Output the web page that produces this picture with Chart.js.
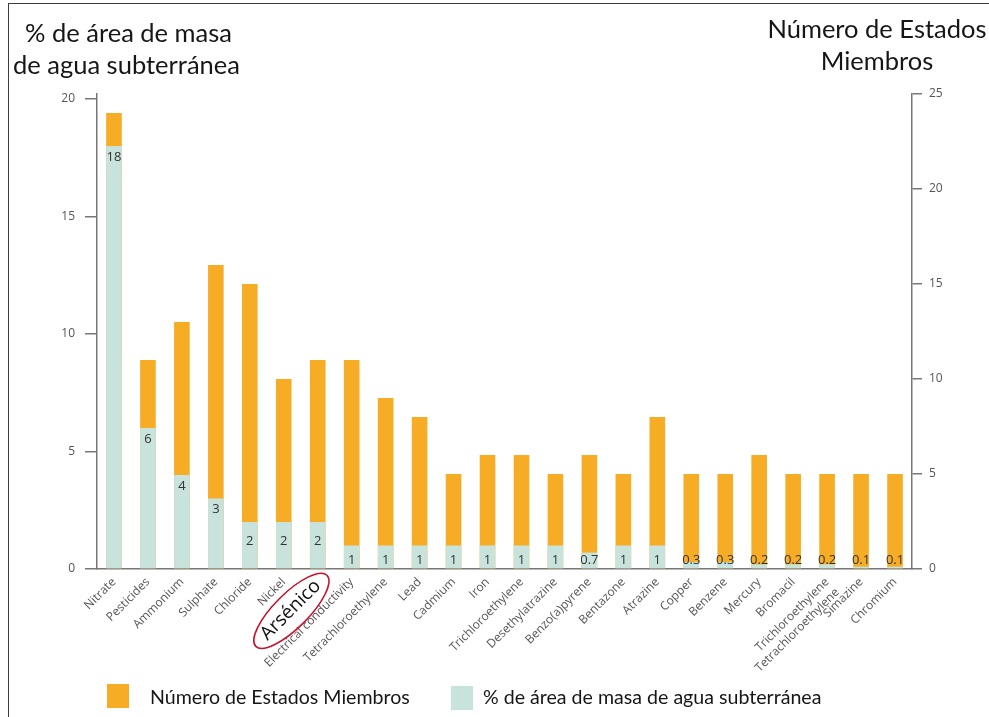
<!DOCTYPE html>
<html>
<head>
<meta charset="utf-8">
<script src="https://cdn.jsdelivr.net/npm/chart.js@4.4.1/dist/chart.umd.min.js"></script>
<style>
  html, body { margin: 0; padding: 0; background: #fff; }
  #wrap { position: relative; width: 989px; height: 717px; overflow: hidden; background: #fff; }
  #frame { position: absolute; left: 8px; top: 3px; right: -4px; bottom: -4px;
           border-left: 1.5px solid #3c3c3c; border-top: 1.5px solid #3c3c3c; pointer-events: none; }
  canvas { position: absolute; left: 0; top: 0; }
  .ttl { position: absolute; font-family: Lato, "Open Sans", sans-serif; font-size: 25.5px; color: #161616; white-space: nowrap; line-height: 32px; }
  .leg-box { position: absolute; width: 22px; height: 24px; }
  .leg-txt { position: absolute; font-family: Lato, "Open Sans", sans-serif; font-size: 19.6px; color: #161616; white-space: nowrap; }
</style>
</head>
<body>
<div id="wrap">
  <canvas id="chart" width="989" height="717"></canvas>
  <div class="ttl" style="left:25px; top:16px;">% de área de masa</div>
  <div class="ttl" style="left:13px; top:48px;">de agua subterránea</div>
  <div class="ttl" style="left:757px; top:12px; width:240px; text-align:center;">Número de Estados<br>Miembros</div>
  <div class="leg-box" style="left:107px; top:684px; background:#F6AD25;"></div>
  <div class="leg-txt" style="left:150px; top:685px;">Número de Estados Miembros</div>
  <div class="leg-box" style="left:451px; top:686px; background:#C7E3DB;"></div>
  <div class="leg-txt" style="left:483px; top:685px;">% de área de masa de agua subterránea</div>
  <div id="frame"></div>
</div>
<script>
// Parameters exceeding thresholds
const categories = [
  'Nitrate', 'Pesticides', 'Ammonium', 'Sulphate', 'Chloride', 'Nickel', 'Arsénico',
  'Electrical conductivity', 'Tetrachloroethylene', 'Lead', 'Cadmium', 'Iron',
  'Trichloroethylene', 'Desethylatrazine', 'Benzo(a)pyrene', 'Bentazone', 'Atrazine',
  'Copper', 'Benzene', 'Mercury', 'Bromacil',
  ['Trichloroethylene', 'Tetrachloroethylene'], 'Simazine', 'Chromium'
];

// Number of Member States (right axis)
const memberStates = [24, 11, 13, 16, 15, 10, 11, 11, 9, 8, 5, 6, 6, 5, 6, 5, 8, 5, 5, 6, 5, 5, 5, 5];

// % of groundwater body area (left axis)
const areaPercent = [18, 6, 4, 3, 2, 2, 2, 1, 1, 1, 1, 1, 1, 1, 0.7, 1, 1, 0.3, 0.3, 0.2, 0.2, 0.2, 0.1, 0.1];

const leftTicks = [0, 5, 10, 15, 20];
const rightTicks = [0, 5, 10, 15, 20, 25];

const ORANGE = '#F6AD25';
const GREEN = '#C7E3DB';
const AXIS = '#777777';
const HIGHLIGHT = 6; // index of the circled category

// Values written inside the green bars
const valueLabels = {
  id: 'valueLabels',
  afterDatasetsDraw(chart) {
    const meta = chart.getDatasetMeta(0);
    const ctx = chart.ctx;
    ctx.save();
    ctx.font = '13px "Open Sans", sans-serif';
    ctx.fillStyle = '#333';
    ctx.textAlign = 'center';
    ctx.textBaseline = 'middle';
    meta.data.forEach((bar, i) => {
      const h = bar.base - bar.y;
      let y;
      if (h >= 60) y = bar.y + 11;
      else if (h >= 35) y = bar.base - 27;
      else y = bar.base - 8;
      ctx.fillText(String(areaPercent[i]), bar.x, y);
    });
    ctx.restore();
  }
};

// Red ellipse around the highlighted category label
const labelRing = {
  id: 'labelRing',
  afterDraw(chart) {
    const scale = chart.scales.x;
    const ctx = chart.ctx;
    const items = scale.getLabelItems ? scale.getLabelItems() : null;
    const item = items ? items[HIGHLIGHT] : null;
    if (!item) return;
    const o = item.options;
    ctx.save();
    ctx.font = item.font.string;
    const w = ctx.measureText(categories[HIGHLIGHT]).width;
    const size = item.font.size;
    let cy = item.textOffset;
    if (o.textBaseline === 'top') cy += size / 2;
    else if (o.textBaseline === 'bottom') cy -= size / 2;
    let cx = o.textAlign === 'right' ? -w / 2 : (o.textAlign === 'left' ? w / 2 : 0);
    ctx.translate(o.translation[0], o.translation[1]);
    ctx.rotate(o.rotation);
    ctx.beginPath();
    ctx.ellipse(cx, cy + 1, w / 2 + 12, size * 0.9, 0, 0, Math.PI * 2);
    ctx.strokeStyle = '#C8102E';
    ctx.lineWidth = 1.6;
    ctx.stroke();
    ctx.restore();
  }
};

new Chart(document.getElementById('chart'), {
  type: 'bar',
  data: {
    labels: categories,
    datasets: [
      {
        label: '% de área de masa de agua subterránea',
        data: areaPercent,
        yAxisID: 'y',
        backgroundColor: GREEN,
        order: 0,
        grouped: false,
        barPercentage: 0.46,
        categoryPercentage: 1
      },
      {
        label: 'Número de Estados Miembros',
        data: memberStates,
        yAxisID: 'y1',
        backgroundColor: ORANGE,
        order: 1,
        grouped: false,
        barPercentage: 0.46,
        categoryPercentage: 1
      }
    ]
  },
  options: {
    responsive: false,
    animation: false,
    layout: { padding: { top: 94, left: 0, right: 0, bottom: 0 } },
    plugins: {
      legend: { display: false },
      tooltip: { enabled: false }
    },
    scales: {
      x: {
        grid: { display: false, drawTicks: false },
        border: { color: AXIS, width: 1.5 },
        ticks: {
          autoSkip: false,
          minRotation: 45,
          maxRotation: 45,
          padding: 6,
          color: (c) => c.index === HIGHLIGHT ? '#111' : '#555',
          font: (c) => c.index === HIGHLIGHT
            ? { family: '"Open Sans", sans-serif', size: 19 }
            : { family: '"Open Sans", sans-serif', size: 12 }
        },
        afterFit: (s) => { s.height = 148; }
      },
      y: {
        position: 'left',
        min: 0,
        max: 20.21,
        afterBuildTicks: (s) => { s.ticks = leftTicks.map(v => ({ value: v })); },
        grid: { drawOnChartArea: false, tickLength: 12, color: AXIS, lineWidth: 1.5 },
        border: { color: AXIS, width: 1.5 },
        ticks: { padding: 10, color: '#555', font: { family: '"Open Sans", sans-serif', size: 12 } },
        afterFit: (s) => { s.width = 97; }
      },
      y1: {
        position: 'right',
        min: 0,
        max: 25,
        afterBuildTicks: (s) => { s.ticks = rightTicks.map(v => ({ value: v })); },
        grid: { drawOnChartArea: false, tickLength: 10, color: AXIS, lineWidth: 1.5 },
        border: { color: AXIS, width: 1.5 },
        ticks: { padding: 7, color: '#555', font: { family: '"Open Sans", sans-serif', size: 12 } },
        afterFit: (s) => { s.width = 77; }
      }
    }
  },
  plugins: [valueLabels, labelRing]
});
</script>
</body>
</html>
